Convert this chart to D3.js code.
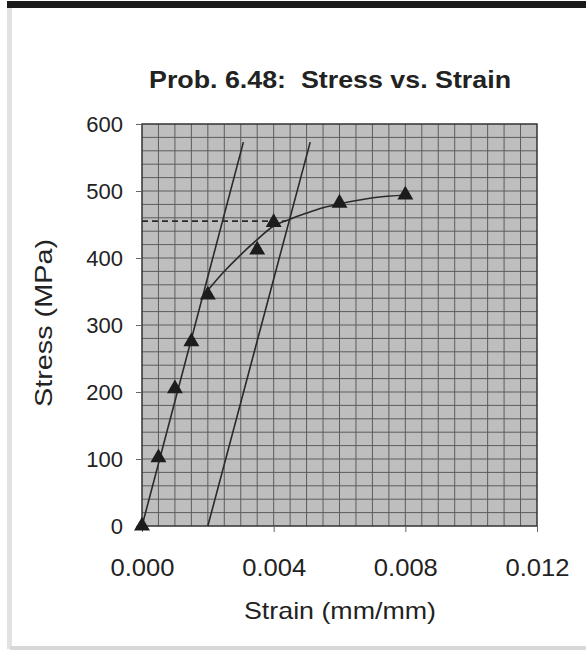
<!DOCTYPE html>
<html>
<head>
<meta charset="utf-8">
<script src="https://cdn.jsdelivr.net/npm/d3@7"></script>
<style>
  html, body { margin: 0; padding: 0; background: #fff; }
  svg { display: block; font-family: "Liberation Sans", Arial, sans-serif; }
</style>
</head>
<body>
<div class="canvas"></div>
<script>
"use strict";

// measured points (triangles)
const strain = [0, 0.0005, 0.001, 0.0015, 0.002, 0.0035, 0.004, 0.006, 0.008];
const stress = [0, 102, 205, 275, 345, 412, 453, 482, 494];

// fitted curve
const curveStrain = [0.00197, 0.00246, 0.00298, 0.00349, 0.00398, 0.0045, 0.005, 0.0055, 0.00602, 0.00702, 0.00805];
const curveStress = [350, 378, 404, 427, 447, 458, 467, 475, 481, 490, 494];

// elastic line and 0.002 offset line
const elasticLine = [[0, 0], [0.00308, 573]];
const offsetLine = [[0.002, 0], [0.00511, 573]];
// yield level
const yieldLine = [[0, 455], [0.00438, 455]];

const xTicks = [0, 0.004, 0.008, 0.012];
const yTicks = [0, 100, 200, 300, 400, 500, 600];

const width = 586;
const height = 652;
const plot = { left: 142, right: 537, top: 124, bottom: 526 };
const font = '"Liberation Sans", Arial, sans-serif';

const svg = d3.select(".canvas").append("svg")
  .attr("width", width)
  .attr("height", height);

// frame around the figure
svg.append("rect").attr("x", 7).attr("y", 8).attr("width", 5).attr("height", 641).attr("fill", "#e2e2e2");
svg.append("rect").attr("x", 10).attr("y", 646).attr("width", 576).attr("height", 4).attr("fill", "#d8d8d8");
svg.append("rect").attr("x", 7).attr("y", 1).attr("width", 579).attr("height", 7).attr("fill", "#1a1a1a");

const x = d3.scaleLinear().domain([0, 0.012]).range([plot.left, plot.right]);
const y = d3.scaleLinear().domain([0, 600]).range([plot.bottom, plot.top]);

// plot background
svg.append("rect")
  .attr("x", plot.left)
  .attr("y", plot.top)
  .attr("width", plot.right - plot.left)
  .attr("height", plot.bottom - plot.top)
  .attr("fill", "#bebebe");

// grid: 0.0005 and 20 MPa steps
const grid = svg.append("g").attr("stroke", "#5c5c5c").attr("stroke-width", 1);
grid.selectAll("line.v")
  .data(d3.range(1, 24).map((i) => i * 0.0005))
  .join("line")
  .attr("class", "v")
  .attr("x1", (d) => x(d))
  .attr("x2", (d) => x(d))
  .attr("y1", plot.top)
  .attr("y2", plot.bottom);
grid.selectAll("line.h")
  .data(d3.range(1, 30).map((i) => i * 20))
  .join("line")
  .attr("class", "h")
  .attr("x1", plot.left)
  .attr("x2", plot.right)
  .attr("y1", (d) => y(d))
  .attr("y2", (d) => y(d));

svg.append("rect")
  .attr("x", plot.left)
  .attr("y", plot.top)
  .attr("width", plot.right - plot.left)
  .attr("height", plot.bottom - plot.top)
  .attr("fill", "none")
  .attr("stroke", "#333")
  .attr("stroke-width", 1.5);

// axes
const xAxis = svg.append("g")
  .attr("transform", `translate(0, ${plot.bottom})`)
  .call(d3.axisBottom(x).tickValues(xTicks).tickFormat(d3.format(".3f")).tickSize(6).tickPadding(28));
const yAxis = svg.append("g")
  .attr("transform", `translate(${plot.left}, 0)`)
  .call(d3.axisLeft(y).tickValues(yTicks).tickSize(6).tickPadding(13));

[xAxis, yAxis].forEach((ax) => {
  ax.select(".domain").remove();
  ax.selectAll(".tick line").attr("stroke", "#666");
  ax.selectAll(".tick text")
    .attr("fill", "#222")
    .style("font-family", font);
});
yAxis.selectAll(".tick text").style("font-size", "22px");
xAxis.selectAll(".tick text")
  .style("font-size", "23px")
  .attr("textLength", 64)
  .attr("lengthAdjust", "spacingAndGlyphs");

const line = d3.line().x((d) => x(d[0])).y((d) => y(d[1]));

svg.append("path")
  .datum(elasticLine)
  .attr("d", line)
  .attr("fill", "none")
  .attr("stroke", "#2a2a2a")
  .attr("stroke-width", 1.6);
svg.append("path")
  .datum(offsetLine)
  .attr("d", line)
  .attr("fill", "none")
  .attr("stroke", "#2a2a2a")
  .attr("stroke-width", 1.6);
svg.append("path")
  .datum(yieldLine)
  .attr("d", line)
  .attr("fill", "none")
  .attr("stroke", "#2a2a2a")
  .attr("stroke-width", 1.6)
  .attr("stroke-dasharray", "6,4");

svg.append("path")
  .datum(curveStrain.map((s, i) => [s, curveStress[i]]))
  .attr("d", line.curve(d3.curveCatmullRom))
  .attr("fill", "none")
  .attr("stroke", "#2a2a2a")
  .attr("stroke-width", 1.6);

// triangle markers
svg.append("g")
  .selectAll("path")
  .data(strain.map((s, i) => [s, stress[i]]))
  .join("path")
  .attr("transform", (d) => `translate(${x(d[0])}, ${y(d[1])})`)
  .attr("d", d3.symbol(d3.symbolTriangle, 110))
  .attr("fill", "#1c1c1c");

// texts
svg.append("text")
  .attr("x", 330)
  .attr("y", 88)
  .attr("text-anchor", "middle")
  .attr("font-weight", "bold")
  .attr("font-size", 24)
  .attr("fill", "#222")
  .attr("textLength", 362)
  .attr("lengthAdjust", "spacingAndGlyphs")
  .attr("xml:space", "preserve")
  .text("Prob. 6.48:  Stress vs. Strain");

svg.append("text")
  .attr("x", 340)
  .attr("y", 619)
  .attr("text-anchor", "middle")
  .attr("font-size", 24)
  .attr("fill", "#222")
  .attr("textLength", 192)
  .attr("lengthAdjust", "spacingAndGlyphs")
  .text("Strain (mm/mm)");

svg.append("text")
  .attr("transform", "translate(52, 323) rotate(-90)")
  .attr("text-anchor", "middle")
  .attr("font-size", 24)
  .attr("fill", "#222")
  .attr("textLength", 168)
  .attr("lengthAdjust", "spacingAndGlyphs")
  .text("Stress (MPa)");
</script>
</body>
</html>
